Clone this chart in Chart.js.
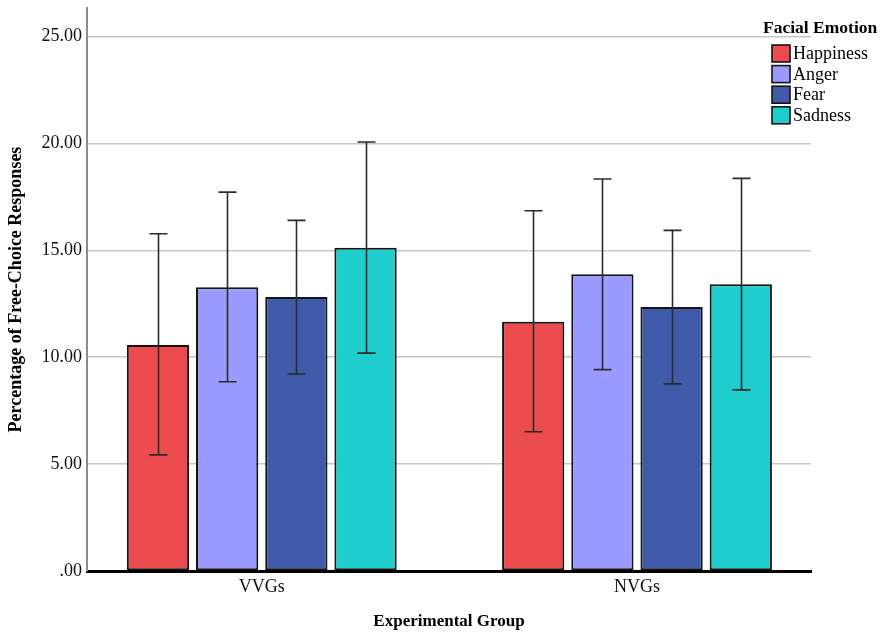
<!DOCTYPE html>
<html>
<head>
<meta charset="utf-8">
<script src="https://cdn.jsdelivr.net/npm/chart.js@4/dist/chart.umd.min.js"></script>
<style>
  html, body { margin: 0; padding: 0; background: #fff; }
  #wrap { width: 880px; height: 634px; position: relative; }
</style>
</head>
<body>
<div id="wrap"><canvas id="c"></canvas></div>
<script>
// Groups on the x axis and the four emotion series
const groups = ['VVGs', 'NVGs'];
const emotions = ['Happiness', 'Anger', 'Fear', 'Sadness'];
const colors = ['#ec4b4d', '#9a9aff', '#3f5aa8', '#1fcdcd'];

// Mean percentage of free-choice responses, per group (VVGs, NVGs)
const happinessMean = [10.57, 11.66];
const angerMean     = [13.27, 13.88];
const fearMean      = [12.82, 12.35];
const sadnessMean   = [15.12, 13.41];

// Error bar limits (lower, upper), per group
const happinessLow  = [5.43, 6.51];
const happinessHigh = [15.77, 16.85];
const angerLow      = [8.85, 9.42];
const angerHigh     = [17.72, 18.33];
const fearLow       = [9.21, 8.75];
const fearHigh      = [16.40, 15.93];
const sadnessLow    = [10.19, 8.47];
const sadnessHigh   = [20.06, 18.36];

// Y axis tick values
const yTicks = [0, 5, 10, 15, 20, 25];

const means = [happinessMean, angerMean, fearMean, sadnessMean];
const lows  = [happinessLow, angerLow, fearLow, sadnessLow];
const highs = [happinessHigh, angerHigh, fearHigh, sadnessHigh];

const serif = "'Liberation Serif', 'Times New Roman', serif";

const datasets = emotions.map((name, i) => ({
  label: name,
  data: means[i].map((v, g) => ({ x: g, y: v })),
  backgroundColor: colors[i],
  borderColor: '#141414',
  borderWidth: 2,
  borderSkipped: false,
  categoryPercentage: 0.7376,
  barPercentage: 0.9
}));

// Vertical error bars with end caps
const errorBars = {
  id: 'errorBars',
  afterDatasetsDraw(chart) {
    const { ctx, scales: { y } } = chart;
    ctx.save();
    ctx.strokeStyle = '#2b2b2b';
    ctx.lineWidth = 1.6;
    datasets.forEach((ds, i) => {
      const meta = chart.getDatasetMeta(i);
      meta.data.forEach((bar, g) => {
        const x = Math.round(bar.x) + 0.5;
        const yl = y.getPixelForValue(lows[i][g]);
        const yh = y.getPixelForValue(highs[i][g]);
        const cap = 9;
        ctx.beginPath();
        ctx.moveTo(x, yh); ctx.lineTo(x, yl);
        ctx.moveTo(x - cap, yh); ctx.lineTo(x + cap, yh);
        ctx.moveTo(x - cap, yl); ctx.lineTo(x + cap, yl);
        ctx.stroke();
      });
    });
    ctx.restore();
  }
};

// Legend box in the upper right corner
const emotionLegend = {
  id: 'emotionLegend',
  afterDraw(chart) {
    const { ctx } = chart;
    ctx.save();
    ctx.fillStyle = '#000';
    ctx.textBaseline = 'middle';
    ctx.textAlign = 'left';
    ctx.font = "bold 17.5px " + serif;
    ctx.fillText('Facial Emotion', 763, 28);
    ctx.font = "18px " + serif;
    datasets.forEach((ds, i) => {
      const cy = 53.5 + i * 20.6;
      ctx.fillStyle = ds.backgroundColor;
      ctx.fillRect(772, cy - 8.5, 18, 17);
      ctx.strokeStyle = '#141414';
      ctx.lineWidth = 1.6;
      ctx.strokeRect(772, cy - 8.5, 18, 17);
      ctx.fillStyle = '#000';
      ctx.fillText(ds.label, 793, cy + 1);
    });
    ctx.restore();
  }
};

new Chart(document.getElementById('c'), {
  type: 'bar',
  data: { datasets },
  plugins: [errorBars, emotionLegend],
  options: {
    responsive: true,
    maintainAspectRatio: false,
    animation: false,
    layout: { padding: { top: 8, right: 69, left: 0, bottom: 0 } },
    plugins: {
      legend: { display: false },
      tooltip: { enabled: false }
    },
    scales: {
      x: {
        type: 'linear',
        min: -0.4657,
        max: 1.4637,
        offset: false,
        grid: { display: false, drawTicks: false },
        border: { display: true, color: '#000', width: 3 },
        afterBuildTicks(axis) { axis.ticks = groups.map((_, g) => ({ value: g })); },
        afterFit(axis) { axis.height = 63; axis.paddingLeft = 0; axis.paddingRight = 0; },
        ticks: {
          autoSkip: false,
          maxRotation: 0,
          padding: 5,
          color: '#111',
          font: { family: serif, size: 18 },
          callback: (v) => groups[v]
        },
        title: {
          display: true,
          text: 'Experimental Group',
          color: '#000',
          font: { family: serif, size: 17, weight: 'bold' },
          padding: { top: 0, bottom: 2 }
        }
      },
      y: {
        min: 0,
        max: 26.33,
        grid: { color: '#c6c6c6', lineWidth: 1.5, drawTicks: false },
        border: { display: true, color: '#8c8c8c', width: 2 },
        afterBuildTicks(axis) { axis.ticks = yTicks.map(v => ({ value: v })); },
        afterFit(axis) { axis.width = 87; axis.paddingTop = 0; axis.paddingBottom = 0; },
        ticks: {
          padding: 5,
          color: '#111',
          font: { family: serif, size: 18 },
          callback: (v) => v === 0 ? '.00' : v.toFixed(2)
        },
        title: {
          display: true,
          text: 'Percentage of Free-Choice Responses',
          color: '#000',
          font: { family: serif, size: 18, weight: 'bold' },
          padding: { top: 6, bottom: 0 }
        }
      }
    }
  }
});
</script>
</body>
</html>
